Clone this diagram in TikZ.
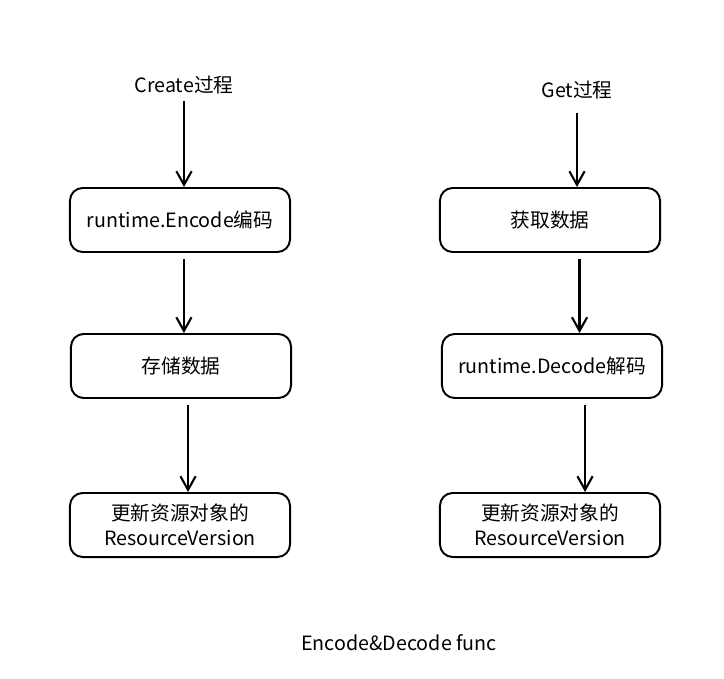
\documentclass[tikz,border=0pt]{standalone}
\usepackage{fontspec}
\setmainfont{Noto Sans CJK SC}
\usetikzlibrary{arrows.meta}

\begin{document}
\begin{tikzpicture}[x=0.025cm, y=-0.025cm, font=\fontsize{14}{18}\selectfont,
  stepbox/.style={draw, line width=1.4pt, rounded corners=9pt, minimum width=5.5cm, minimum height=1.6cm, align=center, fill=white},
  ttl/.style={inner sep=2pt},
  arr/.style={-{Straight Barb[length=3.4mm, width=3.8mm]}, line width=1.5pt}]
\useasboundingbox[fill=white] (0,0) rectangle (724,678);
% left column: create
\node[ttl] (create) at (184,85) {Create过程};
\node[stepbox] (encode) at (180,220) {runtime.Encode编码};
\node[stepbox] (store) at (181,366) {存储数据};
\node[stepbox] (rvleft) at (180,525) {更新资源对象的\\ResourceVersion};
\draw[arr] ([yshift=-3pt]create.south) -- (create |- encode.north);
\draw[arr] ([xshift=2.8pt,yshift=-4pt]encode.south) -- ([xshift=2.8pt]encode.south |- store.north);
\draw[arr] ([xshift=5pt,yshift=-4pt]store.south) -- ([xshift=5pt]store.south |- rvleft.north);
% right column: get
\node[ttl] (get) at (577,90) {Get过程};
\node[stepbox] (fetch) at (550,220) {获取数据};
\node[stepbox] (decode) at (552,366) {runtime.Decode解码};
\node[stepbox] (rvright) at (550,525) {更新资源对象的\\ResourceVersion};
\draw[arr] ([yshift=-8pt]get.south) -- (get |- fetch.north);
\draw[arr] ([xshift=21pt,yshift=-4pt]fetch.south) -- ([xshift=21pt]fetch.south |- decode.north);
\draw[arr] ([xshift=23.5pt,yshift=-4pt]decode.south) -- ([xshift=23.5pt]decode.south |- rvright.north);
% caption
\node (caption) at (399,643) {Encode\&Decode func};
\end{tikzpicture}
\end{document}
